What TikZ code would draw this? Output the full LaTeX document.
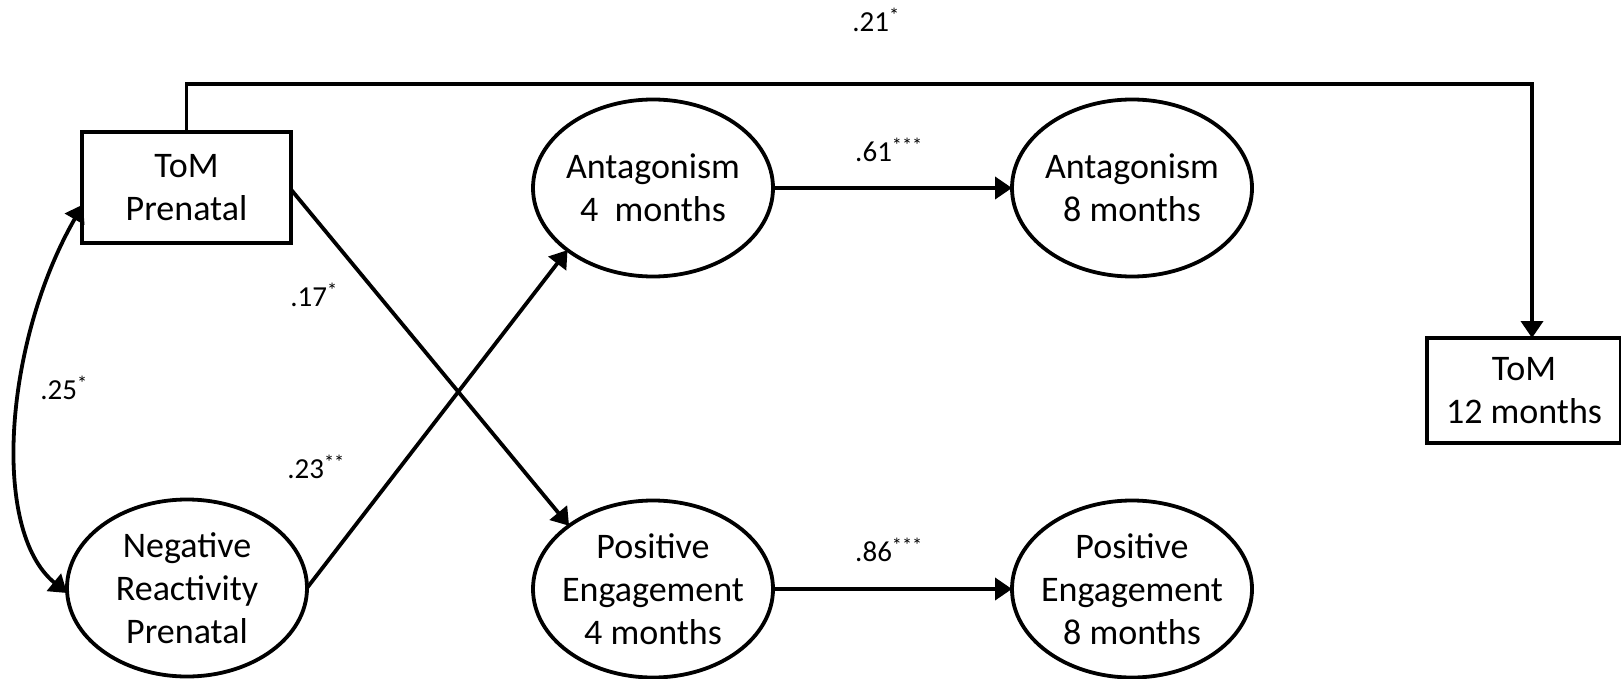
\documentclass[tikz,border=0pt]{standalone}
\usepackage{fontspec}
\setmainfont{Carlito}
\usetikzlibrary{arrows.meta,shapes.geometric,calc}
\begin{document}
\begin{tikzpicture}[x=1pt,y=-1pt,
  every node/.style={inner sep=0pt,outer sep=0pt},
  conn/.style={line width=3.8pt},
  arr/.style={conn,-{Triangle[length=17pt,width=22pt]}},
  txt/.style={font=\fontsize{36}{43}\selectfont,align=center},
  boxnode/.style={draw,line width=3.8pt,rectangle,txt},
  ell/.style={draw,line width=3.8pt,ellipse,minimum width=240pt,minimum height=177pt},
  lab/.style={font=\fontsize{29}{34}\selectfont}]
\useasboundingbox (0,0) rectangle (1621,679);

% nodes
\node[boxnode,minimum width=209pt,minimum height=111pt] (tomp) at (186.5,187.5) {ToM\\Prenatal};
\node[boxnode,minimum width=194pt,minimum height=105pt] (tom12) at (1524,390.5) {ToM\\12 months};
\node[ell,label={[txt]center:Negative\\Reactivity\\Prenatal}] (nr) at (187,588) {};
\node[ell,label={[txt]center:Antagonism\\4~~months}] (ant4) at (653,188) {};
\node[ell,label={[txt]center:Positive\\Engagement\\4 months}] (pe4) at (653,589) {};
\node[ell,label={[txt]center:Antagonism\\8 months}] (ant8) at (1132,188) {};
\node[ell,label={[txt]center:Positive\\Engagement\\8 months}] (pe8) at (1132,589) {};

% coefficient labels
\node[lab] (l21) at (876,20) {.21\textsuperscript{*}};
\node[lab] (l61) at (889,150) {.61\textsuperscript{***}};
\node[lab] (l86) at (889,550) {.86\textsuperscript{***}};
\node[lab] (l17) at (314,295) {.17\textsuperscript{*}};
\node[lab] (l23) at (316,467) {.23\textsuperscript{**}};
\node[lab] (l25) at (64,388) {.25\textsuperscript{*}};

% connectors
\coordinate (tom12in) at ($(tom12.north)+(8,0)$);
\coordinate (topright) at ($(tom12in)+(0,-254)$);
\draw[arr] (tomp.north) |- (topright) -- (tom12in);
\draw[arr] (ant4.east) -- (ant8.west);
\draw[arr] (pe4.east) -- (pe8.west);
\draw[arr] ($(tomp.east)+(0,2)$) -- (pe4.143);
\draw[arr] (nr.east) -- (ant4.216);
\draw[conn,{Triangle[length=17pt,width=22pt]}-{Triangle[length=17pt,width=22pt]}]
  ($(tomp.west)+(1,17)$) .. controls (5,340) and (-10,530) .. ($(nr.west)+(0,5)$);
\end{tikzpicture}
\end{document}
